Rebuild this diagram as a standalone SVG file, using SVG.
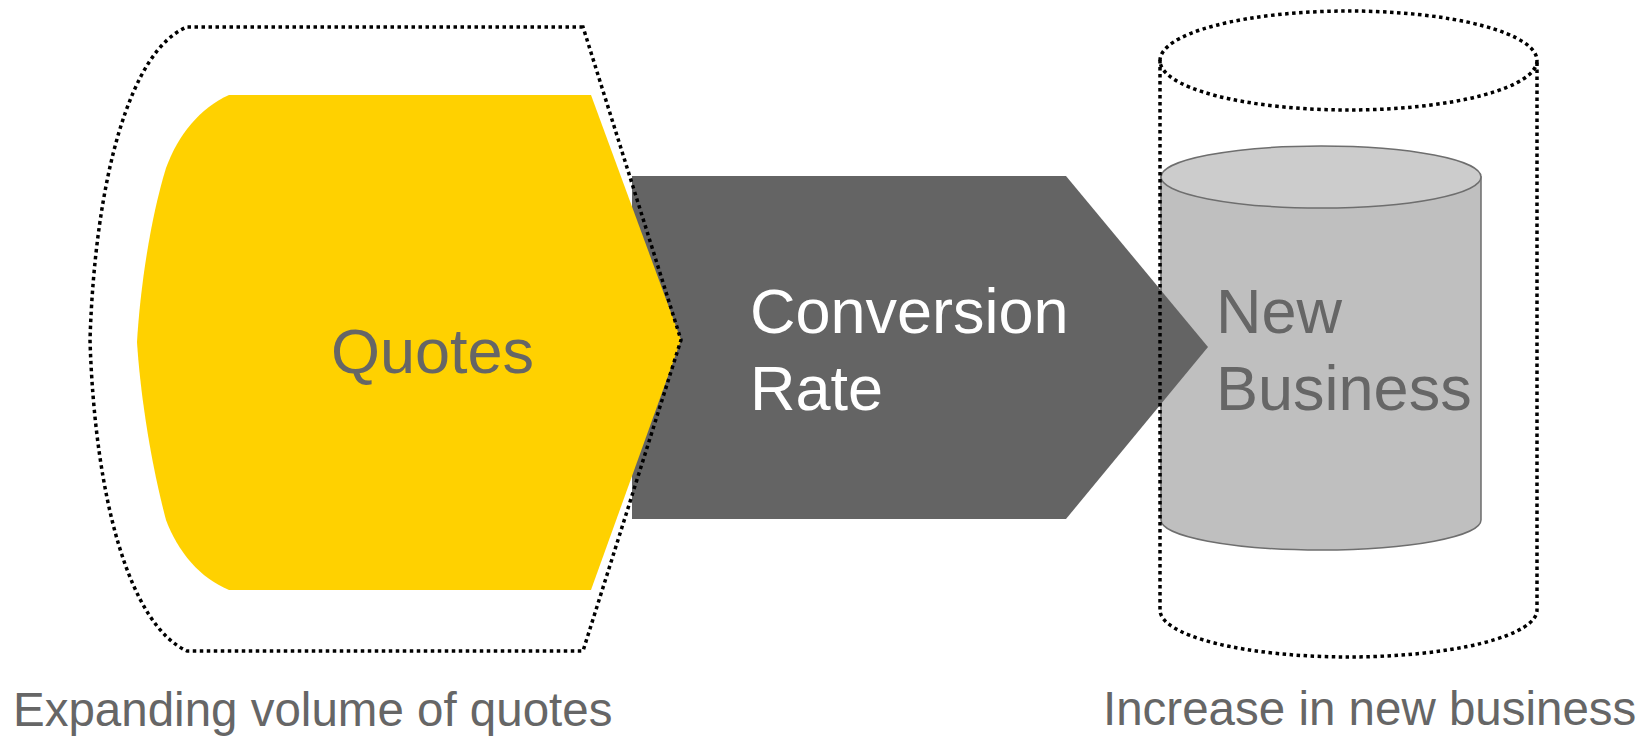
<svg xmlns="http://www.w3.org/2000/svg" width="1650" height="737" viewBox="0 0 1650 737">
  <style>
    .dots { fill: none; stroke: #000; stroke-width: 3.5; stroke-dasharray: 3.5 3.5; }
    .lbl { font-family: "Liberation Sans", Arial, sans-serif; fill: #666666; }
    .big { font-size: 63px; }
    .small { font-size: 47.5px; }
  </style>
  <rect width="1650" height="737" fill="#ffffff"/>
  <g id="new-business">
    <path d="M1161,177 V520 A160,30 0 0 0 1481,520 V177 Z" fill="#bfbfbf" stroke="#6e6e6e" stroke-width="1.5"/>
    <ellipse cx="1321" cy="177" rx="160" ry="31" fill="#cccccc" stroke="#6e6e6e" stroke-width="1.5"/>
    <text class="lbl big" x="1216" y="333">New</text>
    <text class="lbl big" x="1216" y="410">Business</text>
  </g>
  <g id="conversion-rate">
    <path d="M632,176 H1066 L1208,347 L1066,519 H632 Z" fill="#646464"/>
    <text class="lbl big" x="750" y="333" style="fill:#ffffff">Conversion</text>
    <text class="lbl big" x="750" y="410" style="fill:#ffffff">Rate</text>
  </g>
  <g id="quotes">
    <path d="M229,95 H591 L681,340 L591,590 H229 C200,578 178,552 166,520 C150,460 140,390 137,342 C140,290 150,220 166,168 C178,135 200,108 229,95 Z" fill="#ffd100"/>
    <text class="lbl big" x="331" y="373">Quotes</text>
  </g>
  <g id="quotes-volume">
    <path class="dots" d="M583,27 H187 C130,50 95,180 90,340 C95,500 130,625 187,651 H583 L681,340 Z"/>
    <text class="lbl small" x="13" y="726">Expanding volume of quotes</text>
  </g>
  <g id="business-increase">
    <path class="dots" d="M1160,60 V610 A188.5,47 0 0 0 1537,610 V60"/>
    <ellipse class="dots" cx="1348.5" cy="60.5" rx="188.5" ry="49.5"/>
    <text class="lbl small" x="1103" y="725">Increase in new business</text>
  </g>
  <g id="connectors"/>
</svg>
